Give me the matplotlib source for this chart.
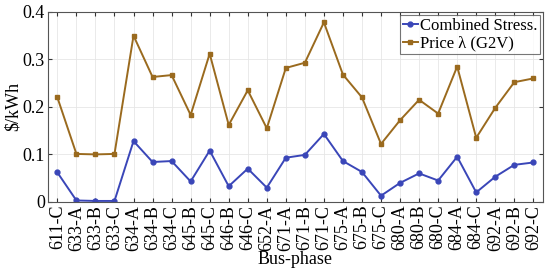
# Combined stress vs G2V price per bus-phase
import matplotlib.pyplot as plt

plt.rcParams['font.family'] = ['Liberation Serif', 'DejaVu Serif']

bus_phases = ['611-C', '633-A', '633-B', '633-C', '634-A', '634-B', '634-C', '645-B',
              '645-C', '646-B', '646-C', '652-A', '671-A', '671-B', '671-C', '675-A',
              '675-B', '675-C', '680-A', '680-B', '680-C', '684-A', '684-C', '692-A',
              '692-B', '692-C']

stress = [0.062, 0.003, 0.002, 0.002, 0.128, 0.084, 0.086, 0.043, 0.108, 0.033,
          0.070, 0.030, 0.093, 0.099, 0.143, 0.086, 0.063, 0.013, 0.040, 0.060,
          0.045, 0.095, 0.020, 0.053, 0.078, 0.083]

price = [0.220, 0.101, 0.100, 0.101, 0.350, 0.263, 0.267, 0.183, 0.312, 0.162,
         0.235, 0.155, 0.282, 0.293, 0.378, 0.268, 0.220, 0.122, 0.172, 0.215,
         0.186, 0.285, 0.135, 0.198, 0.252, 0.260]

fig = plt.figure(figsize=(5.5, 2.71), dpi=100)
ax = fig.add_axes([0.087, 0.255, 0.900, 0.701])

x = range(len(bus_phases))
ax.plot(x, stress, color='#3a46b8', lw=1.4, marker='o', ms=3.5, label='Combined Stress.')
ax.plot(x, price, color='#9a6a1e', lw=1.4, marker='s', ms=3.2, label='Price \u03bb (G2V)')

ax.set_xlim(-0.5, len(bus_phases) - 0.5)
ax.set_ylim(0, 0.4)
ax.set_yticks([0, 0.1, 0.2, 0.3, 0.4])
ax.set_yticklabels(['0', '0.1', '0.2', '0.3', '0.4'])
ax.set_xticks(list(x))
ax.set_xticklabels(bus_phases, rotation=90)
ax.tick_params(direction='in', top=True, right=True, labelsize=13, length=3,
               color='#333333', pad=2)
ax.grid(True, color='#e6e6e6', lw=0.6)
ax.set_axisbelow(True)
for s in ax.spines.values():
    s.set_color('#555555')
    s.set_linewidth(0.8)

ax.set_xlabel('Bus-phase', fontsize=13, labelpad=0)
ax.set_ylabel('$/kWh', fontsize=13, labelpad=1)

leg = ax.legend(loc='upper right', fontsize=12, handlelength=0.9, handletextpad=0.1,
                borderpad=0.15, labelspacing=0.1, fancybox=False, edgecolor='#555555',
                borderaxespad=0.2)
leg.get_frame().set_linewidth(0.8)

fig.savefig('out.png', dpi=100)
